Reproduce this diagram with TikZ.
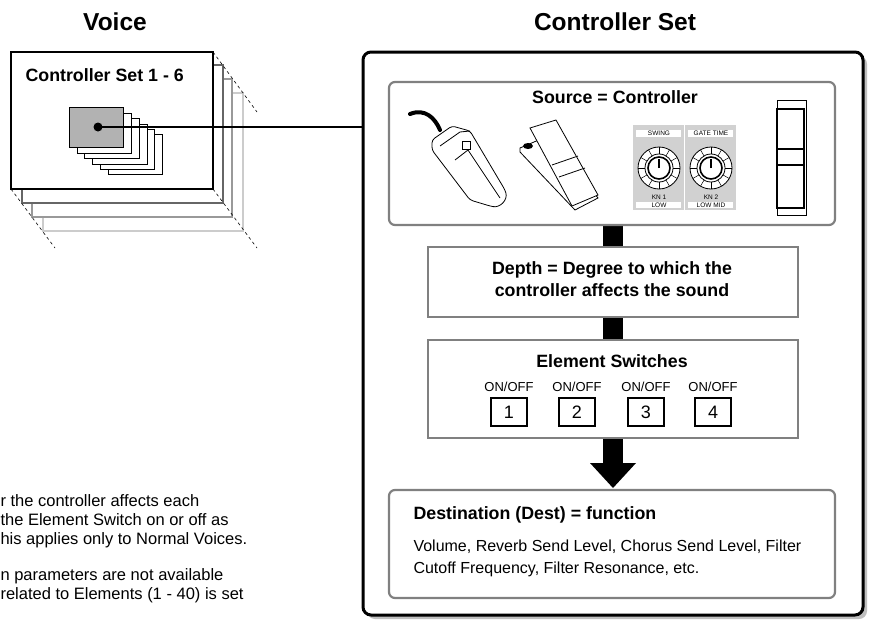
\documentclass[tikz,border=0pt]{standalone}
\usepackage{fontspec}
\setmainfont{Liberation Sans}
\begin{document}
\begin{tikzpicture}[x=1pt,y=-1pt,
  title/.style={font=\bfseries\fontsize{24.5}{28}\selectfont},
  head/.style={font=\bfseries\fontsize{17.8}{22}\selectfont},
  body/.style={font=\fontsize{16}{22}\selectfont},
  note/.style={font=\fontsize{16.5}{19}\selectfont},
  sm/.style={font=\fontsize{13}{15}\selectfont},
  graybox/.style={draw=black!50,line width=2.2pt},
  bar/.style={fill=black,draw=none},
  dsh/.style={dashed,line width=0.6pt}]
\useasboundingbox (0,0) rectangle (879,629);
\fill[white] (0,0) rectangle (879,629);
% titles
\node[title] (tv) at (115,22) {Voice};
\node[title] (tc) at (615,22) {Controller Set};
% left stack
\draw[black!20,line width=1.5pt,fill=white] (43,93) rectangle (243,231);
\draw[black!40,line width=1.5pt,fill=white] (32,79) rectangle (232,217);
\draw[black!60,line width=1.5pt,fill=white] (22,65) rectangle (223,203);
\draw[line width=1.8pt,fill=white] (11,52) rectangle (213,189);
\draw[dsh] (213,52) -- (257,112);
\draw[dsh] (213,189) -- (257,248);
\draw[dsh] (11,189) -- (55,248);
\node[head,anchor=west] (cs) at (22,75) {Controller Set 1 - 6};
\foreach \l/\t/\r/\b in {108/134/162/174,100/129/154/169,92/124/147/164,84/118/139/158,77/113/131/153}
  \draw[line width=0.9pt,fill=white] (\l,\t) rectangle (\r,\b);
\draw[line width=0.9pt,fill=black!30] (69,107) rectangle (123,147);
\fill (98,127) circle (4.5pt);
\coordinate (dot) at (98,127);
% outer box
\fill[black!25,rounded corners=8pt] (367,56) rectangle (867,619);
\draw[line width=3pt,fill=white,rounded corners=8pt] (363,52) rectangle (863,615);
\coordinate (cin) at (363,127);
\draw[line width=1.5pt] (dot) -- (cin);
% bars
\fill[bar] (603,225) rectangle (623,247);
\fill[bar] (603,317) rectangle (623,340);
\fill[bar] (603,438) rectangle (623,464);
\fill[bar] (590,463) -- (636,463) -- (613,488) -- cycle;
% source box
\draw[graybox,rounded corners=6pt] (389,82) rectangle (835,225);
\node[head] (src) at (615,97) {Source = Controller};
% depth
\draw[graybox] (428,247) rectangle (798,317);
\node[head,align=center] (dep) at (612,279) {Depth = Degree to which the\\controller affects the sound};
% element
\draw[graybox] (428,340) rectangle (798,438);
\node[head] (es) at (612,361) {Element Switches};
\foreach \x/\n in {509/1,577/2,646/3,713/4}{
  \node[sm] at (\x,387) {ON/OFF};
  \draw[line width=1.2pt] (\x-18,398) rectangle (\x+18,426);
  \node[font=\fontsize{18}{20}\selectfont] at (\x,412) {\n};}
% destination
\draw[graybox,rounded corners=6pt] (389,490) rectangle (835,598);
\node[head,anchor=west] (dt) at (410,515) {Destination (Dest) = function};
\node[body,anchor=north west,align=left] (db) at (410,536) {Volume, Reverb Send Level, Chorus Send Level, Filter\\Cutoff Frequency, Filter Resonance, etc.};
% left note text
\node[note,anchor=north west,align=left] (n1) at (-3,491) {r the controller affects each\\the Element Switch on or off as\\his applies only to Normal Voices.};
\node[note,anchor=north west,align=left] (n2) at (-3,565) {n parameters are not available\\related to Elements (1 - 40) is set};
% foot switch
\draw[line width=4pt,line cap=round] (410,114) .. controls (425,108) and (435,118) .. (440,130);
\draw[line width=0.8pt,fill=white,rounded corners=3pt] (432,140) -- (452,126) -- (470,131) -- (505,190) .. controls (508,200) and (500,208) .. (490,206) -- (470,200) -- (432,150) -- cycle;
\draw[line width=0.8pt] (440,146) -- (460,132) -- (470,131);
\draw[line width=0.8pt] (455,160) -- (468,150) -- (500,198);
\draw[line width=0.8pt] (462,141) rectangle (470,149);
% foot controller
\draw[line width=0.8pt,fill=white] (520,148) -- (548,136) -- (598,198) -- (575,210) -- (520,152) -- cycle;
\draw[line width=0.8pt,fill=white] (530,128) -- (556,120) -- (598,195) -- (572,206) -- cycle;
\draw[line width=0.8pt] (552,165) -- (578,156);
\draw[line width=0.8pt] (559,177) -- (585,168);
\fill (528,146) ellipse (5pt and 3pt);
% knob panels
\foreach \cx/\top/\bot/\kn in {659/SWING/LOW/1,711/GATE TIME/LOW MID/2}{
  \fill[black!18] (\cx-26,125) rectangle (\cx+25,210);
  \fill[white] (\cx-23,130) rectangle (\cx+22,137);
  \fill[white] (\cx-23,202) rectangle (\cx+22,208);
  \node[font=\fontsize{6.5}{7}\selectfont] at (\cx,133.5) {\top};
  \node[font=\fontsize{6.5}{7}\selectfont] at (\cx,205) {\bot};
  \node[font=\fontsize{6.5}{7}\selectfont] at (\cx,197) {KN \kn};
  \draw[line width=0.8pt,fill=white] (\cx,168) circle (21pt);
  \foreach \a in {0,30,...,330} \draw[line width=0.5pt] (\cx,168) -- ++(\a:21pt);
  \draw[line width=0.8pt,fill=white] (\cx,168) circle (14pt);
  \draw[line width=1.6pt] (\cx,168) circle (11pt);
  \draw[line width=1.5pt] (\cx,168) -- ++(0,-9);}
% ribbon
\draw[line width=0.6pt] (777,100) rectangle (806,215);
\draw[line width=1.3pt] (777,109) rectangle (804,208);
\draw[line width=1.3pt] (777,149) -- (804,149);
\draw[line width=1.3pt] (777,165) -- (804,165);
\end{tikzpicture}
\end{document}
